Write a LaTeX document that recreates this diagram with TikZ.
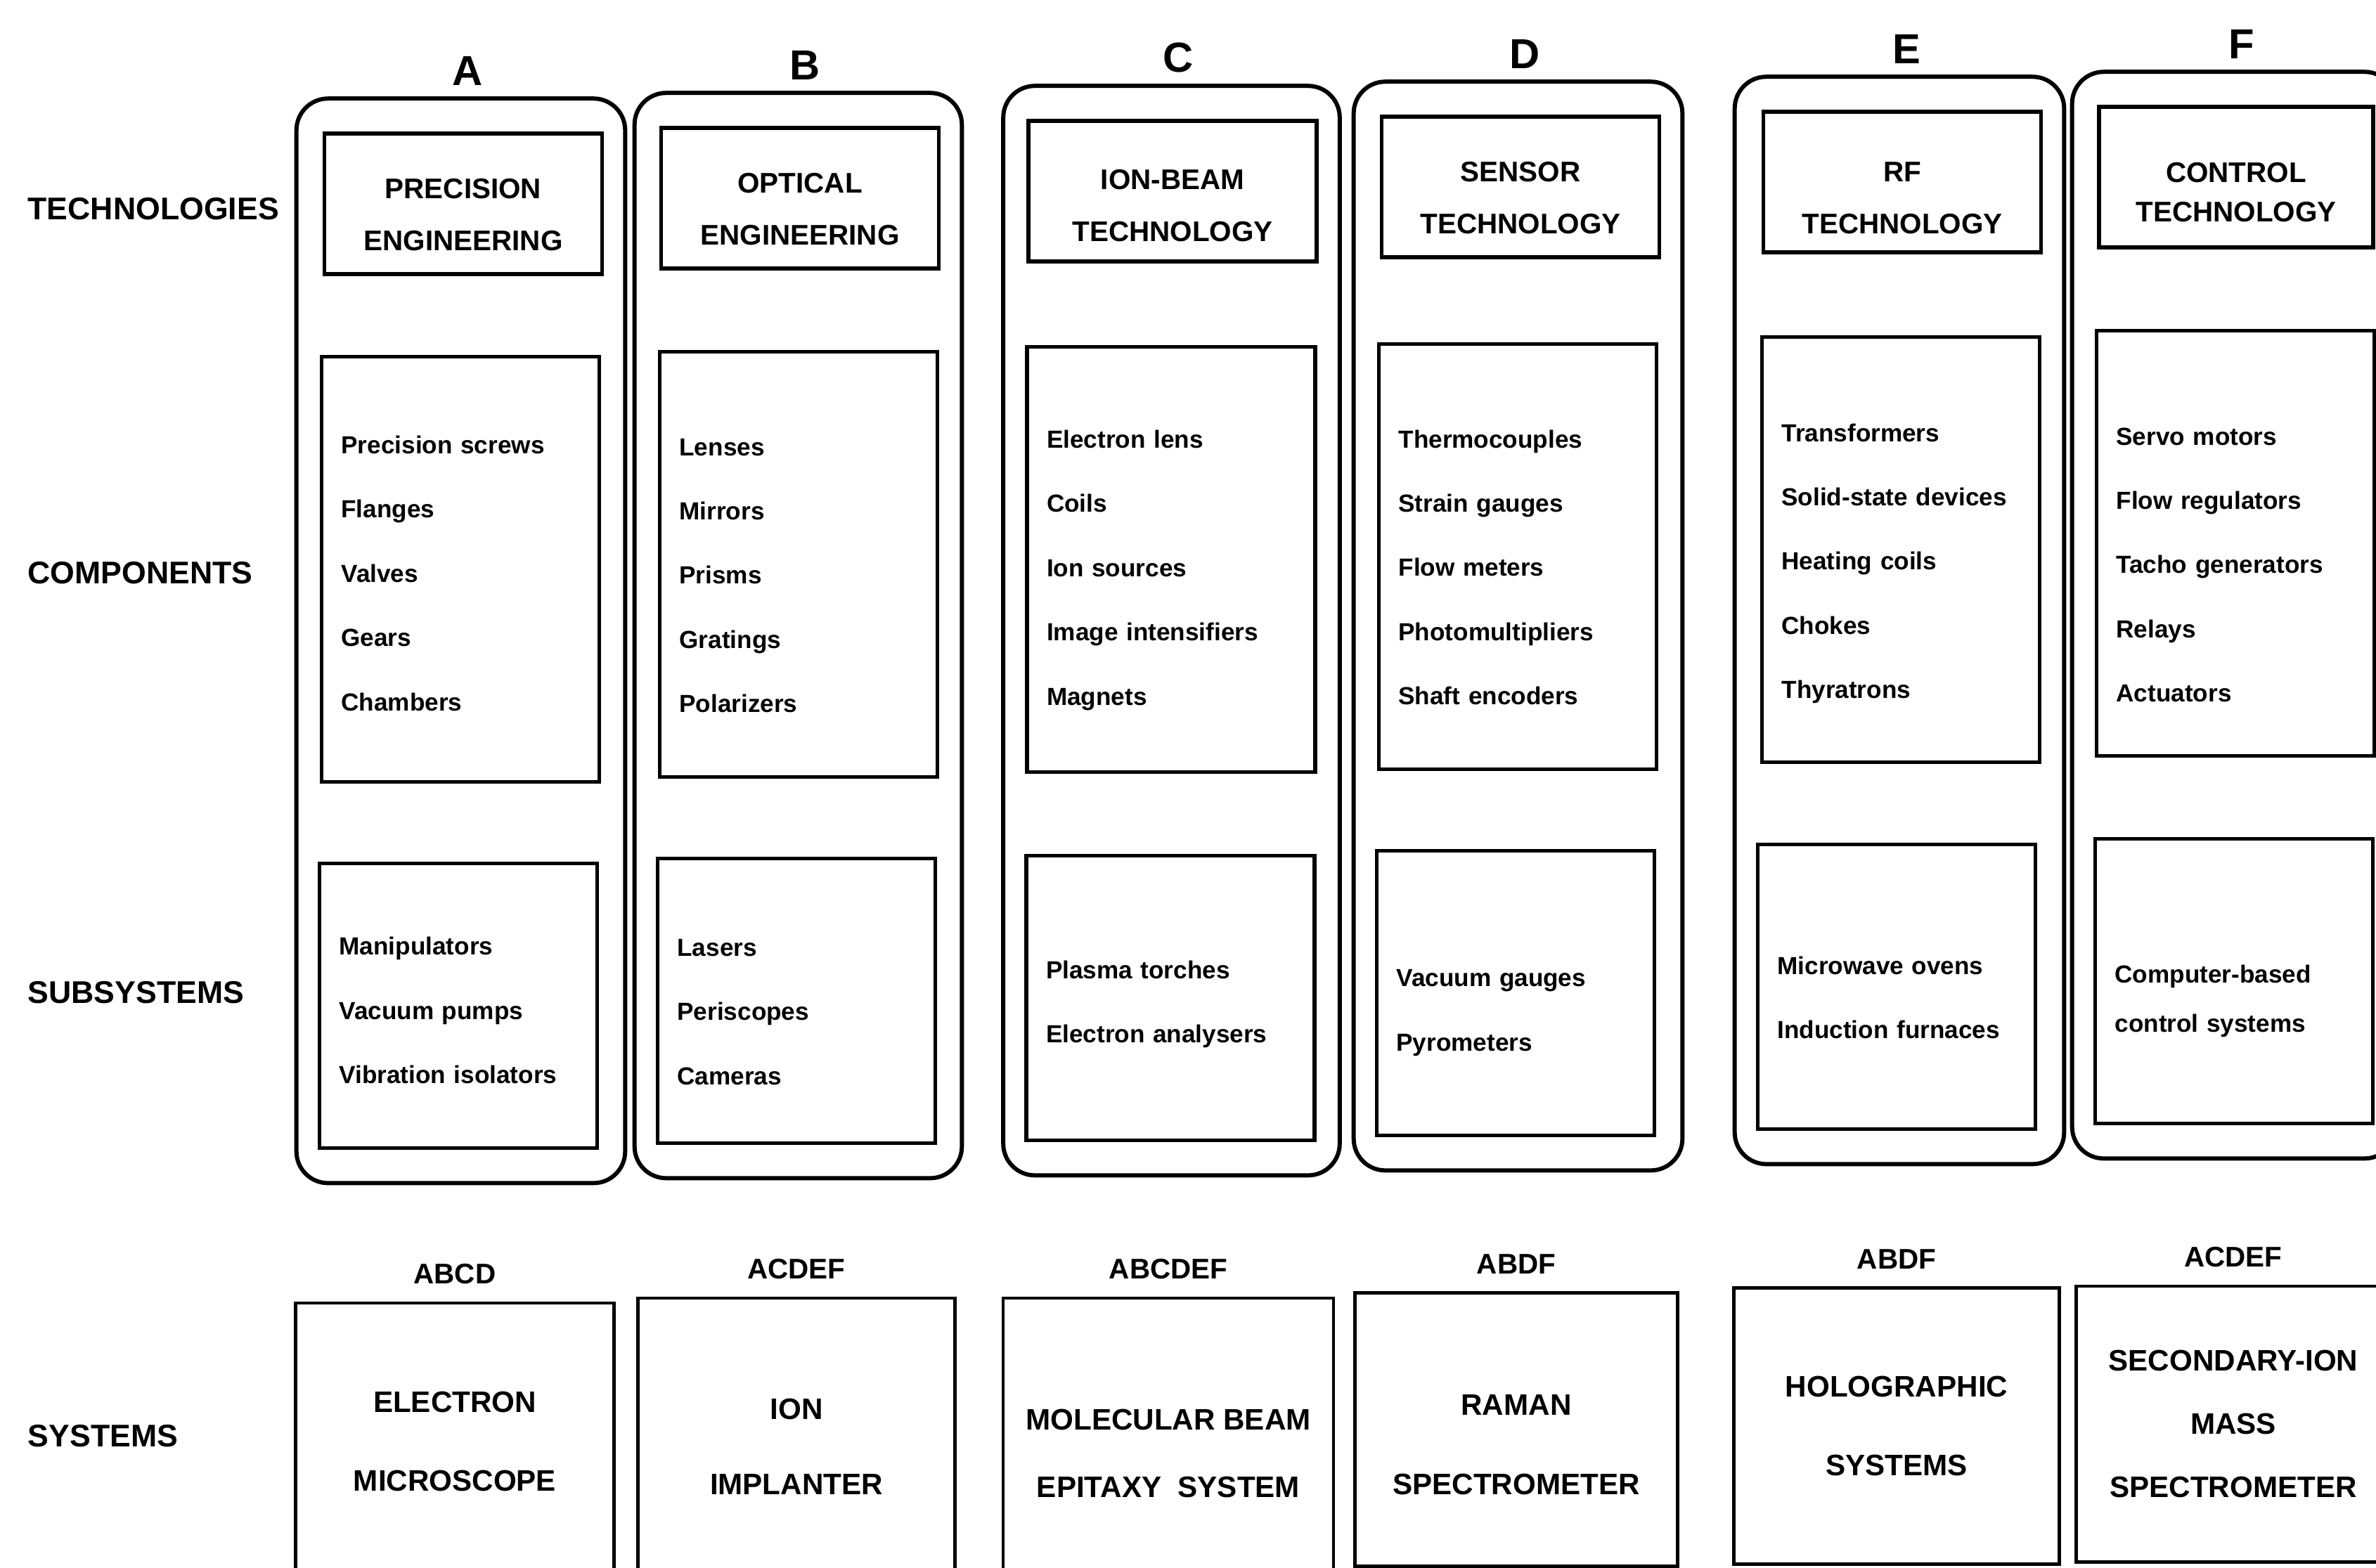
\documentclass[tikz,border=0pt]{standalone}
\usepackage{fontspec}
\setmainfont{Liberation Sans}
\usetikzlibrary{positioning,fit}
\tikzset{
  txtdrop/.style={execute at begin node={\rule{0pt}{#1}}},
  techbox/.style={rectangle,draw,line width=1.6pt,text width=3.39cm,inner xsep=0.28cm,
    minimum height=2.0cm,align=center,font=\bfseries\fontsize{11.5}{21}\selectfont,txtdrop=#1},
  techbox/.default=0.59cm,
  compbox/.style={rectangle,draw,line width=1.6pt,text width=3.39cm,inner xsep=0.28cm,
    minimum height=6.05cm,align=left,font=\bfseries\fontsize{10}{26}\selectfont,txtdrop=#1},
  compbox/.default=0.56cm,
  subbox/.style={compbox=#1,minimum height=4.05cm},
  subbox/.default=0.56cm,
  colbox/.style={rectangle,draw,line width=1.7pt,rounded corners=0.45cm,
    inner xsep=0.3cm,inner ysep=0.47cm},
  sysbox/.style={rectangle,draw,line width=1.4pt,align=center,
    font=\bfseries\fontsize{12}{32}\selectfont},
  rowlbl/.style={anchor=west,inner sep=0pt,font=\bfseries\fontsize{12.7}{15}\selectfont},
  collbl/.style={font=\bfseries\fontsize{17}{20}\selectfont,inner sep=0pt,xshift=0.1cm},
  keylbl/.style={font=\bfseries\fontsize{11.5}{14}\selectfont,inner sep=0pt}
}
\begin{document}
\begin{tikzpicture}
\useasboundingbox (0,0) rectangle (33.8,-22.3);
\clip (0,0) rectangle (33.8,-22.3);

% Row labels
\node[rowlbl] (rowtech) at (0.39,-2.97) {TECHNOLOGIES};
\node[rowlbl] (rowcomp) at (0.39,-8.15) {COMPONENTS};
\node[rowlbl] (rowsub) at (0.39,-14.12) {SUBSYSTEMS};
\node[rowlbl] (rowsys) at (0.39,-20.43) {SYSTEMS};

% Technologies
\node[techbox] (techA) at (6.59,-2.90) {PRECISION\\ENGINEERING};
\node[techbox] (techB) at (11.38,-2.82) {OPTICAL\\ENGINEERING};
\node[techbox=0.70cm,text width=3.54cm] (techC) at (16.68,-2.72) {ION-BEAM\\TECHNOLOGY};
\node[techbox] (techD) at (21.63,-2.66) {SENSOR\\TECHNOLOGY};
\node[techbox=0.74cm] (techE) at (27.06,-2.59) {RF\\TECHNOLOGY};
\node[techbox=0.72cm,text width=3.34cm] (techF) at (31.81,-2.52) {CONTROL\\[-5pt]TECHNOLOGY};

% Components
\node[compbox=0.37cm] (compA) at (6.55,-8.10) {
  Precision screws\\
  Flanges\\
  Valves\\
  Gears\\
  Chambers
};
\node[compbox] (compB) at (11.36,-8.03) {
  Lenses\\
  Mirrors\\
  Prisms\\
  Gratings\\
  Polarizers
};
\node[compbox,text width=3.54cm] (compC) at (16.66,-7.96) {
  Electron lens\\
  Coils\\
  Ion sources\\
  Image intensifiers\\
  Magnets
};
\node[compbox] (compD) at (21.59,-7.92) {
  Thermocouples\\
  Strain gauges\\
  Flow meters\\
  Photomultipliers\\
  Shaft encoders
};
\node[compbox=0.65cm] (compE) at (27.04,-7.82) {
  Transformers\\
  Solid-state devices\\
  Heating coils\\
  Chokes\\
  Thyratrons
};
\node[compbox=0.86cm] (compF) at (31.80,-7.73) {
  Servo motors\\
  Flow regulators\\
  Tacho generators\\
  Relays\\
  Actuators
};

% Subsystems
\node[subbox=0.39cm] (subA) at (6.52,-14.31) {
  Manipulators\\
  Vacuum pumps\\
  Vibration isolators
};
\node[subbox] (subB) at (11.33,-14.24) {
  Lasers\\
  Periscopes\\
  Cameras
};
\node[subbox=0.43cm,text width=3.54cm] (subC) at (16.65,-14.20) {
  Plasma torches\\
  Electron analysers
};
\node[subbox=0.80cm] (subD) at (21.56,-14.13) {
  Vacuum gauges\\
  Pyrometers
};
\node[subbox] (subE) at (26.98,-14.04) {
  Microwave ovens\\
  Induction furnaces
};
\node[subbox=0.82cm] (subF) at (31.78,-13.96) {
  Computer-based\\[-6pt]
  control systems
};

% Columns
\node[colbox,fit=(techA)(subA)] (colA) {};
\node[colbox,fit=(techB)(subB)] (colB) {};
\node[colbox,fit=(techC)(subC)] (colC) {};
\node[colbox,fit=(techD)(subD)] (colD) {};
\node[colbox,fit=(techE)(subE)] (colE) {};
\node[colbox,fit=(techF)(subF)] (colF) {};

\node[collbl,above=0.15cm of colA] (letA) {A};
\node[collbl,above=0.15cm of colB] (letB) {B};
\node[collbl,above=0.15cm of colC] (letC) {C};
\node[collbl,above=0.15cm of colD] (letD) {D};
\node[collbl,above=0.15cm of colE] (letE) {E};
\node[collbl,above=0.15cm of colF] (letF) {F};

% Systems
\node[sysbox,minimum width=4.53cm,minimum height=3.94cm] (sysA) at (6.47,-20.51)
  {ELECTRON\\MICROSCOPE};
\node[sysbox,minimum width=4.51cm,minimum height=4.22cm] (sysB) at (11.33,-20.58)
  {ION\\[-1.5pt]IMPLANTER};
\node[sysbox,minimum width=4.70cm,minimum height=4.42cm] (sysC) at (16.62,-20.68)
  {MOLECULAR BEAM\\[-4.5pt]EPITAXY\ \ SYSTEM};
\node[sysbox,text width=4.19cm,inner xsep=0.2cm,minimum height=3.89cm,txtdrop=0.72cm] (sysD)
  at (21.57,-20.34) {RAMAN\\SPECTROMETER};
\node[sysbox,minimum width=4.63cm,minimum height=3.93cm] (sysE) at (26.98,-20.29)
  {HOLOGRAPHIC\\SYSTEMS};
\node[sysbox,minimum width=4.47cm,minimum height=3.92cm] (sysF) at (31.77,-20.26)
  {SECONDARY-ION\\[-6.5pt]MASS\\[-6.5pt]SPECTROMETER};

\node[keylbl,above=0.24cm of sysA] (keyA) {ABCD};
\node[keylbl,above=0.24cm of sysB] (keyB) {ACDEF};
\node[keylbl,above=0.24cm of sysC] (keyC) {ABCDEF};
\node[keylbl,above=0.24cm of sysD] (keyD) {ABDF};
\node[keylbl,above=0.24cm of sysE] (keyE) {ABDF};
\node[keylbl,above=0.24cm of sysF] (keyF) {ACDEF};

\end{tikzpicture}
\end{document}
